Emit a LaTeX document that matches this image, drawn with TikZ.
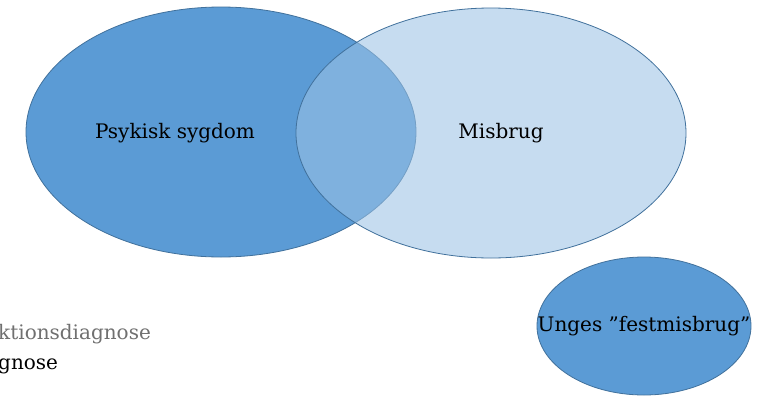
\documentclass[tikz,border=0pt]{standalone}
\usepackage{fontspec}
\setmainfont{DejaVu Serif}
\definecolor{darkfill}{RGB}{91,155,213}
\definecolor{lightfill}{RGB}{155,194,229}
\definecolor{edge}{RGB}{65,113,156}
\definecolor{graytext}{RGB}{112,112,112}
\begin{document}
\begin{tikzpicture}[x=1pt,y=-1pt,
  blob/.style={draw=edge,line width=0.8pt},
  lbl/.style={font=\fontsize{20}{24}\selectfont,text=black,inner sep=0pt}]
\useasboundingbox (0,0) rectangle (761,397);
\fill[white] (0,0) rectangle (761,397);
\path[blob,fill=darkfill] (221,132) ellipse [x radius=195, y radius=125];
\path[blob,fill=lightfill,fill opacity=0.57] (491,133) ellipse [x radius=195, y radius=125];
\path[blob,fill=darkfill] (644,326) ellipse [x radius=107, y radius=69];
\node[lbl] (psy) at (175,133) {Psykisk sygdom};
\node[lbl] (mis) at (501,133) {Misbrug};
\node[lbl] (ung) at (644,326) {Unges ”festmisbrug”};
\node[lbl,anchor=west,text=graytext] (t1) at (-2,334) {ktionsdiagnose};
\node[lbl,anchor=west] (t2) at (-2,366) {gnose};
\end{tikzpicture}
\end{document}
